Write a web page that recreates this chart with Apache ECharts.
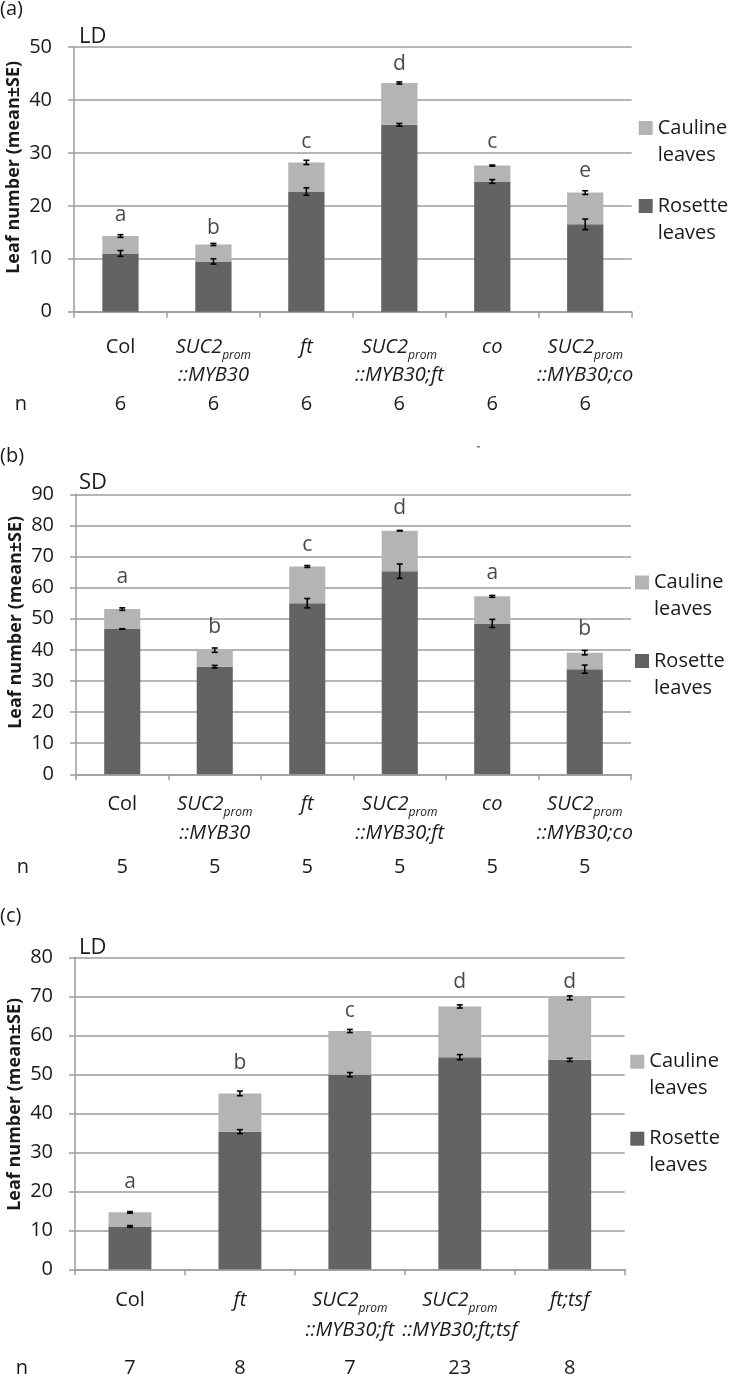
<!DOCTYPE html>
<html>
<head>
<meta charset="utf-8">
<script src="https://cdn.jsdelivr.net/npm/echarts@6/dist/echarts.min.js"></script>
<style>
  html, body { margin: 0; padding: 0; background: #fff; }
  #chart { width: 731px; height: 1374px; }
</style>
</head>
<body>
<div id="chart"></div>
<script>
// (a) long days
const genotypesA = ['Col', 'SUC2prom::MYB30', 'ft', 'SUC2prom::MYB30;ft', 'co', 'SUC2prom::MYB30;co'];
const rosetteA = [11.0, 9.5, 22.7, 35.3, 24.6, 16.5];
const caulineA = [3.3, 3.2, 5.5, 7.9, 3.0, 6.0];
const rosetteErrA = [0.55, 0.5, 0.7, 0.25, 0.35, 1.0];
const caulineErrA = [0.25, 0.2, 0.4, 0.2, 0.1, 0.35];
const lettersA = ['a', 'b', 'c', 'd', 'c', 'e'];
const letterPosA = [18.3, 15.8, 32.0, 46.8, 32.1, 26.6];
const nA = [6, 6, 6, 6, 6, 6];

// (b) short days
const genotypesB = ['Col', 'SUC2prom::MYB30', 'ft', 'SUC2prom::MYB30;ft', 'co', 'SUC2prom::MYB30;co'];
const rosetteB = [46.7, 34.6, 55.0, 65.3, 48.5, 33.8];
const caulineB = [6.4, 5.3, 11.8, 13.0, 8.7, 5.3];
const rosetteErrB = [0.1, 0.4, 1.5, 2.3, 1.3, 1.3];
const caulineErrB = [0.4, 0.7, 0.3, 0.1, 0.3, 0.7];
const lettersB = ['a', 'b', 'c', 'd', 'a', 'b'];
const letterPosB = [63.4, 47.3, 73.7, 85.6, 64.7, 46.7];
const nB = [5, 5, 5, 5, 5, 5];

// (c) long days, tsf lines
const genotypesC = ['Col', 'ft', 'SUC2prom::MYB30;ft', 'SUC2prom::MYB30;ft;tsf', 'ft;tsf'];
const rosetteC = [11.0, 35.3, 49.9, 54.4, 53.7];
const caulineC = [3.6, 9.8, 11.2, 13.0, 15.9];
const rosetteErrC = [0.2, 0.5, 0.55, 0.65, 0.4];
const caulineErrC = [0.2, 0.6, 0.4, 0.4, 0.5];
const lettersC = ['a', 'b', 'c', 'd', 'd'];
const letterPosC = [22.5, 52.9, 66.3, 73.7, 73.7];
const nC = [7, 8, 7, 23, 8];

const yMaxes = [50, 90, 80];

const font = 'Open Sans';
const ink = '#1a1a1a';
const axisGray = '#9d9d9d';
const rosetteColor = '#636363';
const caulineColor = '#b4b4b4';

// layout of each panel (pixels)
const panels = [
  {
    tag: '(a)', cond: 'LD', cats: genotypesA, ros: rosetteA, caul: caulineA,
    rosErr: rosetteErrA, caulErr: caulineErrA, letters: lettersA, letterPos: letterPosA, n: nA,
    max: yMaxes[0], grid: { left: 74, top: 47, width: 557.7, height: 264.7 },
    tagTop: -1, condTop: 26, legendLeft: 638.7, legendTop: 87.5, legendGap: -3,
    lineH: 28, labelMargin: 22, nOffset: 93, nameShift: 24
  },
  {
    tag: '(b)', cond: 'SD', cats: genotypesB, ros: rosetteB, caul: caulineB,
    rosErr: rosetteErrB, caulErr: caulineErrB, letters: lettersB, letterPos: letterPosB, n: nB,
    max: yMaxes[1], grid: { left: 76, top: 494.3, width: 555, height: 280 },
    tagTop: 446, condTop: 472, legendLeft: 635, legendTop: 542, legendGap: -2.5,
    lineH: 29, labelMargin: 15, nOffset: 92.5, nameShift: 24
  },
  {
    tag: '(c)', cond: 'LD', cats: genotypesC, ros: rosetteC, caul: caulineC,
    rosErr: rosetteErrC, caulErr: caulineErrC, letters: lettersC, letterPos: letterPosC, n: nC,
    max: yMaxes[2], grid: { left: 75, top: 957.3, width: 549.7, height: 312 },
    tagTop: 906, condTop: 936.4, legendLeft: 630.3, legendTop: 1021.2, legendGap: -4,
    lineH: 30, labelMargin: 15.7, nOffset: 98.5, nameShift: 18
  }
];

function genotypeLabel(name) {
  if (name.startsWith('SUC2prom')) {
    return '{i|SUC2}{s|prom}\n{i|' + name.slice(8) + '}';
  }
  if (name === 'Col') return '{r|Col}';
  return '{i|' + name + '}';
}

function richFor(lh) {
  return {
    r: { fontFamily: font, fontSize: 20, lineHeight: lh, color: ink },
    i: { fontFamily: font, fontStyle: 'italic', fontSize: 20, lineHeight: lh, color: ink },
    s: { fontFamily: font, fontStyle: 'italic', fontSize: 12, lineHeight: 12, verticalAlign: 'bottom', color: ink }
  };
}

function errorBar(params, api) {
  const x = api.value(0);
  const y = api.value(1);
  const e = api.value(2);
  const hi = api.coord([x, y + e]);
  const lo = api.coord([x, y - e]);
  const hw = 3;
  const style = { stroke: '#000', lineWidth: 1.6 };
  return {
    type: 'group',
    children: [
      { type: 'line', shape: { x1: hi[0], y1: hi[1], x2: lo[0], y2: lo[1] }, style },
      { type: 'line', shape: { x1: hi[0] - hw, y1: hi[1], x2: hi[0] + hw, y2: hi[1] }, style },
      { type: 'line', shape: { x1: lo[0] - hw, y1: lo[1], x2: lo[0] + hw, y2: lo[1] }, style }
    ]
  };
}

const option = {
  animation: false,
  backgroundColor: '#fff',
  textStyle: { fontFamily: font },
  title: [],
  legend: [],
  grid: [],
  xAxis: [],
  yAxis: [],
  series: [],
  graphic: [
    { type: 'rect', shape: { x: 477, y: 446, width: 3, height: 1.5 }, style: { fill: '#777' } }
  ]
};

panels.forEach((p, k) => {
  const xi = 2 * k;
  option.grid.push(Object.assign({ containLabel: false, outerBoundsMode: 'none' }, p.grid));

  option.title.push({
    text: p.tag, left: 0, top: p.tagTop, padding: 0,
    textStyle: { fontFamily: font, fontSize: 20, fontWeight: 'normal', color: ink }
  });
  option.title.push({
    text: p.cond, left: 79, top: p.condTop, padding: 0,
    textStyle: { fontFamily: font, fontSize: 22, fontWeight: 'normal', color: ink }
  });

  // an empty first line keeps the square level with the first word
  option.legend.push({
    data: ['Cauline leaves', 'Rosette leaves'],
    orient: 'vertical',
    left: p.legendLeft,
    top: p.legendTop,
    padding: 0,
    itemGap: p.legendGap,
    itemWidth: 14,
    itemHeight: 14,
    icon: 'rect',
    selectedMode: false,
    formatter: (name) => ' \n' + name.replace(' ', '\n'),
    textStyle: { fontFamily: font, fontSize: 20, lineHeight: 27, color: ink }
  });

  option.xAxis.push({
    type: 'category',
    gridIndex: k,
    data: p.cats,
    boundaryGap: true,
    axisLine: { show: true, lineStyle: { color: axisGray, width: 1.5 } },
    axisTick: { show: true, interval: 0, length: 6, lineStyle: { color: axisGray, width: 1.5 } },
    axisLabel: {
      interval: 0, margin: p.labelMargin, color: ink, fontFamily: font, fontSize: 20,
      formatter: genotypeLabel, rich: richFor(p.lineH)
    },
    splitLine: { show: false }
  });
  // row with the number of plants
  option.xAxis.push({
    type: 'category',
    gridIndex: k,
    data: p.cats,
    position: 'bottom',
    offset: p.nOffset,
    axisLine: { show: false },
    axisTick: { show: false },
    axisLabel: {
      interval: 0, margin: 0, verticalAlign: 'middle', color: ink, fontFamily: font, fontSize: 20,
      formatter: (v, i) => String(p.n[i])
    },
    name: 'n',
    nameLocation: 'start',
    nameGap: 47,
    nameTextStyle: { fontFamily: font, fontSize: 20, color: ink, verticalAlign: 'middle' }
  });

  option.yAxis.push({
    type: 'value',
    gridIndex: k,
    min: 0,
    max: p.max,
    interval: 10,
    name: 'Leaf number (mean±SE)',
    nameLocation: 'middle',
    nameRotate: 90,
    nameGap: 51,
    nameMoveOverlap: false,
    nameTextStyle: {
      fontFamily: font, fontWeight: 'bold', fontSize: 18, color: ink,
      padding: [0, 0, 0, p.nameShift]
    },
    axisLine: { show: true, lineStyle: { color: axisGray, width: 1.5 } },
    axisTick: { show: true, length: 6, lineStyle: { color: axisGray, width: 1.5 } },
    axisLabel: { margin: 22, color: ink, fontFamily: font, fontSize: 20 },
    splitLine: { show: true, lineStyle: { color: axisGray, width: 1.5 } }
  });

  option.series.push(
    {
      name: 'Rosette leaves', type: 'bar', xAxisIndex: xi, yAxisIndex: k, stack: 'leaves' + k,
      barWidth: '39%', data: p.ros, itemStyle: { color: rosetteColor }, silent: true
    },
    {
      name: 'Cauline leaves', type: 'bar', xAxisIndex: xi, yAxisIndex: k, stack: 'leaves' + k,
      barWidth: '39%', data: p.caul, itemStyle: { color: caulineColor }, silent: true
    },
    {
      type: 'custom', xAxisIndex: xi, yAxisIndex: k, z: 5, silent: true,
      renderItem: errorBar,
      encode: { x: 0, y: 1 },
      data: p.ros.map((v, i) => [i, v, p.rosErr[i]])
        .concat(p.ros.map((v, i) => [i, v + p.caul[i], p.caulErr[i]]))
    },
    {
      type: 'scatter', xAxisIndex: xi, yAxisIndex: k, silent: true,
      symbolSize: 1, itemStyle: { color: 'transparent' },
      data: p.letterPos.map((v, i) => [i, v]),
      label: {
        show: true, position: 'inside', fontFamily: font, fontSize: 21, color: ink,
        formatter: (q) => p.letters[q.dataIndex]
      }
    }
  );
});

const chart = echarts.init(document.getElementById('chart'), null, { renderer: 'canvas' });
chart.setOption(option);
</script>
</body>
</html>
